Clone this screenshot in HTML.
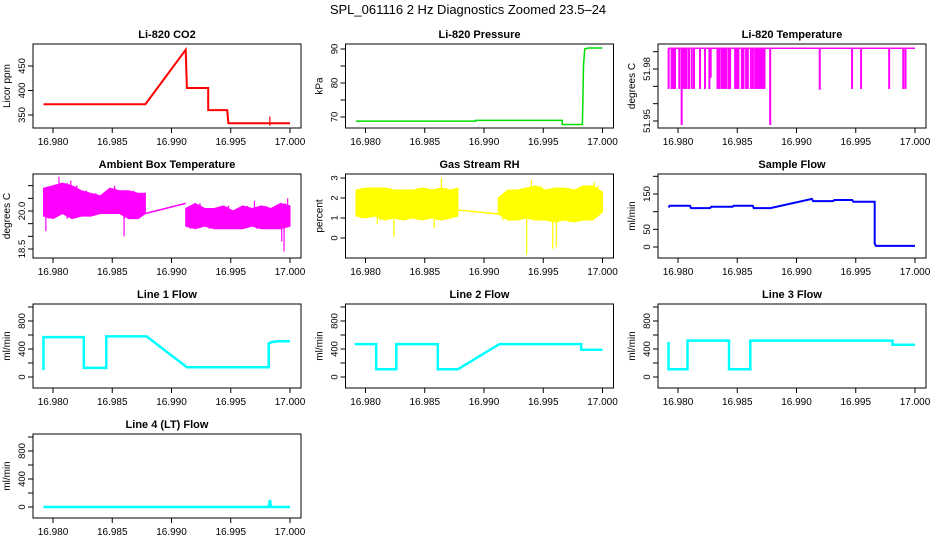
<!DOCTYPE html>
<html><head><meta charset="utf-8"><style>
html,body{margin:0;padding:0;background:#fff;}
svg{display:block;font-family:"Liberation Sans",sans-serif;}
</style></head><body>
<svg id="chart" width="936" height="540" viewBox="0 0 936 540" xmlns="http://www.w3.org/2000/svg">
<rect width="936" height="540" fill="#fff"/>
<text x="468" y="14" text-anchor="middle" font-size="13">SPL_061116  2 Hz Diagnostics Zoomed 23.5–24</text>
</svg>
<script>
// ---------- data ----------
const xTicks = [16.980, 16.985, 16.990, 16.995, 17.000];
const xTickLabels = ["16.980", "16.985", "16.990", "16.995", "17.000"];

const co2X = [16.9792,16.9878,16.9912,16.9913,16.9931,16.9931,16.9947,16.9948,17.0];
const co2V = [372,372,483,405,405,360,360,333,333];
const co2SpikeX = [16.9983];
const co2SpikeV = [347];

const presX = [16.9792,16.9893,16.9893,16.9966,16.9966,16.9983,16.9984,16.9985,16.9988,17.0];
const presV = [68.8,68.8,69.0,69.0,67.8,67.8,85,90.0,90.3,90.3];

const tempBaseX = [16.9792, 17.0];
const tempBaseV = [51.992, 51.992];
const tempDropX = [16.97921,16.97946,16.97961,16.97975,16.98011,16.98031,16.98045,16.98059,16.98073,16.98093,16.98116,16.98135,16.98186,16.98228,16.98265,16.98276,16.98333,16.98350,16.98369,16.98384,16.98398,16.98406,16.98426,16.98440,16.98482,16.98496,16.98510,16.98539,16.98553,16.98575,16.98589,16.98615,16.98632,16.98651,16.98666,16.98680,16.98694,16.98708,16.98722,16.98730,16.98778,16.99196,16.99469,16.99545,16.99782,16.99901,16.99920];
const tempDropV = [51.9685,51.9685,51.9685,51.9685,51.9685,51.9477,51.9685,51.9685,51.9685,51.9685,51.9685,51.9685,51.9685,51.9685,51.9685,51.975,51.9685,51.9685,51.9685,51.9685,51.9685,51.9685,51.9685,51.9685,51.9685,51.9685,51.9685,51.9685,51.9685,51.9685,51.9685,51.9685,51.9685,51.9685,51.9685,51.9685,51.9685,51.9685,51.9685,51.9685,51.9477,51.968,51.9685,51.9685,51.9685,51.9685,51.9685];

const boxX1 = [16.9792,16.9800,16.9808,16.9816,16.9824,16.9832,16.9840,16.9848,16.9856,16.9864,16.9872,16.9878];
const boxHi1 = [20.9,21.0,21.1,21.0,20.8,20.7,20.6,20.9,20.8,20.8,20.7,20.7];
const boxLo1 = [19.8,19.7,19.9,19.7,19.8,19.8,19.9,19.9,19.9,19.7,19.7,19.9];
const boxX2 = [16.9912,16.9920,16.9928,16.9936,16.9944,16.9952,16.9960,16.9968,16.9976,16.9984,16.9992,17.0];
const boxHi2 = [20.1,20.3,20.1,20.1,20.2,20.0,20.2,20.1,20.2,20.1,20.3,20.2];
const boxLo2 = [19.4,19.3,19.4,19.3,19.3,19.3,19.3,19.4,19.3,19.3,19.3,19.4];
const boxSpikeX = [16.9794,16.9805,16.9815,16.9852,16.9860,16.9970,16.9993,16.9995,16.9998];
const boxSpikeV = [19.2,21.35,21.2,21.0,19.0,20.4,18.8,18.4,20.5];
const boxJoinX = [16.9878,16.9912];
const boxJoinV = [19.9,20.3];

const rhX1 = boxX1;
const rhHi1 = [2.4,2.5,2.5,2.5,2.4,2.4,2.4,2.5,2.4,2.5,2.4,2.5];
const rhLo1 = [1.1,1.0,1.1,0.9,1.0,0.9,1.0,0.9,1.0,0.9,1.0,1.1];
const rhX2 = boxX2;
const rhHi2 = [2.0,2.4,2.4,2.5,2.6,2.4,2.5,2.5,2.4,2.6,2.6,2.3];
const rhLo2 = [1.2,0.9,0.9,1.0,0.9,0.9,0.8,0.9,0.8,0.9,0.9,1.3];
const rhSpikeX = [16.9810,16.9824,16.9858,16.9864,16.9936,16.9940,16.9958,16.9961,16.9993];
const rhSpikeV = [0.7,0.05,0.5,3.0,-0.85,2.9,-0.55,-0.45,2.8];
const rhJoinX = [16.9878,16.9912];
const rhJoinV = [1.4,1.2];

const sampX = [16.9792,16.9793,16.9810,16.9811,16.9827,16.9828,16.9846,16.9847,16.9863,16.9864,16.9878,16.9913,16.9914,16.9931,16.9932,16.9947,16.9948,16.9966,16.9966,16.9967,17.0];
const sampV = [112,117,117,110,110,114,114,117,117,110,110,136,130,130,133,133,128,128,10,3,3];

const l1X = [16.9792,16.9792,16.9826,16.9826,16.9845,16.9845,16.9879,16.9913,16.9982,16.9982,16.9985,16.9990,17.0];
const l1V = [100,570,570,130,130,580,580,140,140,480,500,510,510];
const l2X = [16.9791,16.9809,16.9809,16.9826,16.9826,16.9861,16.9861,16.9878,16.9913,16.9982,16.9982,17.0];
const l2V = [470,470,110,110,470,470,110,110,470,470,390,390];
const l3X = [16.9792,16.9792,16.9808,16.9808,16.9843,16.9843,16.9861,16.9861,16.9981,16.9981,17.0];
const l3V = [500,110,110,520,520,110,110,520,520,460,460];
const l4X = [16.9792,16.9982,16.9983,16.9984,17.0];
const l4V = [0,0,100,0,0];

const co2Ticks = [350,400,450], co2Labels = ["350","400","450"];
const presTicks = [70,75,80,85,90], presLabels = ["70","","80","","90"];
const tempTicks = [51.95,51.96,51.97,51.98,51.99], tempLabels = ["51.95","","","51.98",""];
const boxTicks = [18.5,19,19.5,20,20.5,21], boxLabels = ["18.5","","","20.0","",""];
const rhTicks = [0,1,2,3], rhLabels = ["0","1","2","3"];
const sampTicks = [0,50,100,150,200], sampLabels = ["0","50","","150",""];
const flowTicks = [0,200,400,600,800,1000], flowLabels = ["0","","400","","800",""];

// ---------- drawing ----------
const svg = document.getElementById('chart');
const NS = 'http://www.w3.org/2000/svg';
function mk(tag, attrs, parent) {
  const e = document.createElementNS(NS, tag);
  for (const k in attrs) e.setAttribute(k, attrs[k]);
  (parent || svg).appendChild(e);
  return e;
}

function panel(col, row, title, ylab, yA, pA, yB, pB, ticks, labels, name) {
  const left = 33 + 312.5 * col, top = 44 + 130 * row, w = 268, h = 84;
  const g = mk('g', {});
  
  
  const sx = x => left + 20 + (x - 16.98) / 0.02 * 237;
  const sy = v => top + pA + (v - yA) / (yB - yA) * (pB - pA);
  const t = mk('text', {x: left + w / 2, y: top - 6, 'text-anchor': 'middle', 'font-size': 11, 'font-weight': 'bold'}, g);
  t.textContent = title;
  
  
  const box = mk('rect', {x: left, y: top, width: w, height: h, fill: 'none', stroke: '#000', 'stroke-width': 1}, g);
  
  
  const xa = mk('g', {}, g);
  
  
  mk('line', {x1: sx(xTicks[0]), x2: sx(xTicks[xTicks.length - 1]), y1: top + h, y2: top + h, stroke: '#000'}, xa);
  xTicks.forEach((xv, i) => {
    mk('line', {x1: sx(xv), x2: sx(xv), y1: top + h, y2: top + h + 5, stroke: '#000'}, xa);
    const tl = mk('text', {x: sx(xv), y: top + h + 17, 'text-anchor': 'middle', 'font-size': 10}, xa);
    tl.textContent = xTickLabels[i];
  });
  const ya = mk('g', {}, g);
  
  
  ticks.forEach((v, i) => {
    mk('line', {x1: left - 5, x2: left, y1: sy(v), y2: sy(v), stroke: '#000'}, ya);
    if (labels[i]) {
      const yl = mk('text', {x: 0, y: 0, 'text-anchor': 'middle', 'font-size': 9.5,
        transform: `translate(${left - 8},${sy(v)}) rotate(-90)`}, ya);
      yl.textContent = labels[i];
    }
  });
  mk('line', {x1: left, x2: left, y1: sy(ticks[0]), y2: sy(ticks[ticks.length - 1]), stroke: '#000'}, ya);
  const yt = mk('text', {x: 0, y: 0, 'text-anchor': 'middle', 'font-size': 10,
    transform: `translate(${left - 23},${top + h / 2}) rotate(-90)`}, g);
  yt.textContent = ylab;
  
  
  const clip = 'clip-' + name;
  const cp = mk('clipPath', {id: clip}, g);
  mk('rect', {x: left, y: top, width: w, height: h}, cp);
  const plot = mk('g', {'clip-path': `url(#${clip})`}, g);
  return {sx, sy, plot, name};
}

function line(p, xs, vs, color, sw, nm) {
  const pts = xs.map((x, i) => p.sx(x).toFixed(1) + ',' + p.sy(vs[i]).toFixed(1)).join(' ');
  const pl = mk('polyline', {points: pts, fill: 'none', stroke: color, 'stroke-width': sw, 'stroke-linejoin': 'miter'}, p.plot);
  
  
}
function band(p, xs, hi, lo, color, nm) {
  let pts = [];
  xs.forEach((x, i) => { pts.push(p.sx(x).toFixed(1) + ',' + p.sy(hi[i]).toFixed(1)); });
  for (let i = xs.length - 1; i >= 0; i--) pts.push(p.sx(xs[i]).toFixed(1) + ',' + p.sy(lo[i]).toFixed(1));
  const pg = mk('polygon', {points: pts.join(' '), fill: color, stroke: color, 'stroke-width': 1}, p.plot);
  
  
  for (let i = 0; i < xs.length - 1; i++) {
    const xm = (xs[i] + xs[i + 1]) / 2;
    mk('line', {x1: p.sx(xm), x2: p.sx(xm), y1: p.sy(hi[i]), y2: p.sy(lo[i + 1]), stroke: color, 'stroke-width': 1.5}, p.plot);
  }
}
function spikes(p, xs, vs, base, color, nm, sw) {
  xs.forEach((x, i) => {
    const s = mk('line', {x1: p.sx(x), x2: p.sx(x), y1: p.sy(base), y2: p.sy(vs[i]), stroke: color, 'stroke-width': sw || 1.2}, p.plot);
    
    
  });
}

let p = panel(0, 0, 'Li-820 CO2', 'Licor ppm', 450, 22, 350, 71, co2Ticks, co2Labels, 'co2');
line(p, co2X, co2V, '#ff0000', 2, 'co2-line');
spikes(p, co2SpikeX, co2SpikeV, 328, '#ff0000', 'co2-spike');
p = panel(1, 0, 'Li-820 Pressure', 'kPa', 90, 5, 70, 73, presTicks, presLabels, 'pressure');
line(p, presX, presV, '#00dd00', 1.5, 'pressure-line');
p = panel(2, 0, 'Li-820 Temperature', 'degrees C', 51.95, 77, 51.98, 25, tempTicks, tempLabels, 'li820-temp');
line(p, tempBaseX, tempBaseV, '#ff00ff', 1.5, 'li820-temp-line');
spikes(p, tempDropX, tempDropV, 51.992, '#ff00ff', 'li820-temp-drop', 2);
p = panel(0, 1, 'Ambient Box Temperature', 'degrees C', 20, 37, 18.5, 75, boxTicks, boxLabels, 'box-temp');
band(p, boxX1, boxHi1, boxLo1, '#ff00ff', 'box-temp-band-1');
band(p, boxX2, boxHi2, boxLo2, '#ff00ff', 'box-temp-band-2');
line(p, boxJoinX, boxJoinV, '#ff00ff', 1.5, 'box-temp-gap-line');
spikes(p, boxSpikeX, boxSpikeV, 20.0, '#ff00ff', 'box-temp-spike');
p = panel(1, 1, 'Gas Stream RH', 'percent', 0, 64, 3, 4, rhTicks, rhLabels, 'rh');
band(p, rhX1, rhHi1, rhLo1, '#ffff00', 'rh-band-1');
band(p, rhX2, rhHi2, rhLo2, '#ffff00', 'rh-band-2');
line(p, rhJoinX, rhJoinV, '#ffff00', 1.5, 'rh-gap-line');
spikes(p, rhSpikeX, rhSpikeV, 1.7, '#ffff00', 'rh-spike');
p = panel(2, 1, 'Sample Flow', 'ml/min', 0, 73, 150, 20, sampTicks, sampLabels, 'sample-flow');
line(p, sampX, sampV, '#0000ff', 2, 'sample-flow-line');
p = panel(0, 2, 'Line 1 Flow', 'ml/min', 0, 73, 800, 17, flowTicks, flowLabels, 'line1-flow');
line(p, l1X, l1V, '#00ffff', 2.5, 'line1-flow-line');
p = panel(1, 2, 'Line 2 Flow', 'ml/min', 0, 73, 800, 17, flowTicks, flowLabels, 'line2-flow');
line(p, l2X, l2V, '#00ffff', 2.5, 'line2-flow-line');
p = panel(2, 2, 'Line 3 Flow', 'ml/min', 0, 73, 800, 17, flowTicks, flowLabels, 'line3-flow');
line(p, l3X, l3V, '#00ffff', 2.5, 'line3-flow-line');
p = panel(0, 3, 'Line 4 (LT) Flow', 'ml/min', 0, 73, 800, 17, flowTicks, flowLabels, 'line4-flow');
line(p, l4X, l4V, '#00ffff', 2.5, 'line4-flow-line');
</script>
</body></html>
